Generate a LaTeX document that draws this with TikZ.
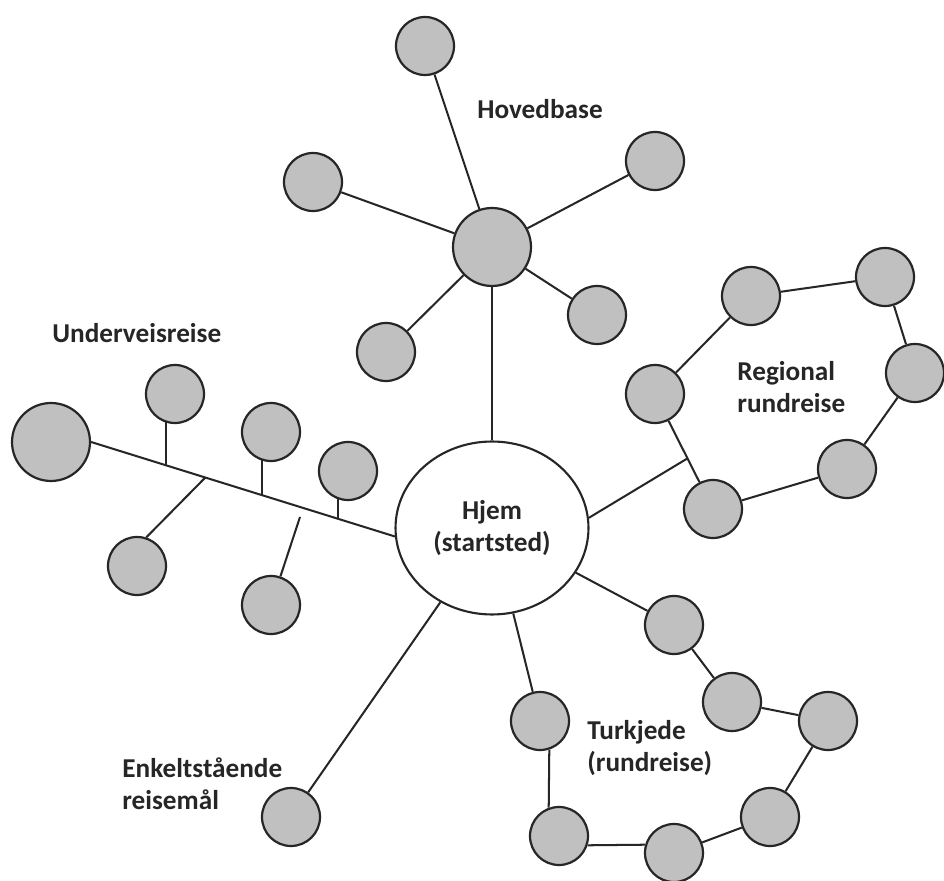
\documentclass[tikz,border=0pt]{standalone}
\usepackage{fontspec}
\setmainfont{Carlito}
\usepackage{tikz}
\usetikzlibrary{shapes.geometric,calc,backgrounds}
\definecolor{stopfill}{HTML}{C0C0C0}
\definecolor{ink}{HTML}{262626}
\newcommand{\vfont}{\fontsize{15.5}{18.7}\selectfont\bfseries}
\tikzset{
  vstop/.style={circle,draw=ink,fill=stopfill,line width=1.25pt,minimum size=1.16cm,inner sep=0pt},
  vhub/.style={vstop,minimum size=1.56cm},
  vhome/.style={ellipse,draw=ink,fill=white,line width=1.2pt,minimum width=3.86cm,minimum height=3.46cm,inner sep=0pt,align=center,font=\vfont,text=ink},
  vline/.style={line width=1.15pt,draw=ink},
  vlabel/.style={anchor=base west,align=left,font=\vfont,text=ink,inner sep=0pt}
}

\begin{document}
\begin{tikzpicture}[x=0.02cm,y=-0.02cm]
  % 1 unit = 1 px of the 944 x 881 sketch, y downwards
  \useasboundingbox (0,0) rectangle (944,881);
  \begin{scope}[on background layer]
    \fill[white] (0,0) rectangle (944,881);
  \end{scope}
  \node[vhome] (home) at (492,528) {Hjem\\(startsted)};
  % hovedbase
  \node[vhub] (hub) at (492,247) {};
  \node[vstop] (hT) at (425,46) {};
  \node[vstop] (hUL) at (313,182) {};
  \node[vstop] (hUR) at (655,161) {};
  \node[vstop] (hLL) at (386,352) {};
  \node[vstop] (hLR) at (597,315) {};
  % underveisreise
  \node[vhub] (uB) at (51,442) {};
  \node[vstop] (uS1) at (175,394) {};
  \node[vstop] (uS2) at (271,432) {};
  \node[vstop] (uS3) at (348,471) {};
  \node[vstop] (uS4) at (137,566) {};
  \node[vstop] (uS5) at (271,605) {};
  % regional rundreise
  \node[vstop] (rR1) at (655,394) {};
  \node[vstop] (rR2) at (751,296) {};
  \node[vstop] (rR3) at (885,277) {};
  \node[vstop] (rR4) at (915,373) {};
  \node[vstop] (rR5) at (847,469) {};
  \node[vstop] (rR6) at (713,509) {};
  % turkjede
  \node[vstop] (tK1) at (674,625) {};
  \node[vstop] (tK2) at (732,702) {};
  \node[vstop] (tK3) at (828,721) {};
  \node[vstop] (tK4) at (770,817) {};
  \node[vstop] (tK5) at (674,853) {};
  \node[vstop] (tK6) at (559,836) {};
  \node[vstop] (tK7) at (540,721) {};
  % enkeltstaende
  \node[vstop] (eE) at (291,817) {};

  \begin{scope}[on background layer]
    \foreach \s in {hT,hUL,hUR,hLL,hLR,home}
      \draw[vline] (hub) -- (\s);
    \draw[vline] (uB.east) -- (home.185);
    \coordinate (j1) at ($(uB.east)!0.245!(home.185)$);
    \coordinate (j2) at ($(uB.east)!0.562!(home.185)$);
    \coordinate (j3) at ($(uB.east)!0.814!(home.185)$);
    \coordinate (j4) at ($(uB.east)!0.376!(home.185)$);
    \coordinate (j5) at (300,517);
    \draw[vline] (j1) -- (j1 |- uS1);
    \draw[vline] (j2) -- (j2 |- uS2);
    \draw[vline] (j3) -- (j3 |- uS3);
    \draw[vline] (j4) -- (uS4.72);
    \draw[vline] (j5) -- (uS5);
    \draw[vline] (rR1) -- (rR2) -- (rR3) -- (rR4) -- (rR5) -- (rR6) -- (rR1);
    \coordinate (rj) at ($(rR1)!0.56!(rR6)$);
    \draw[vline] (home.6) -- (rj);
    \draw[vline] (home) -- (tK1) -- (tK2) -- (tK3) -- (tK4) -- (tK5);
    \draw[vline] (tK5.164) -- (tK6.-18);
    \draw[vline] (tK6.110) -- (tK7.-72);
    \draw[vline] (tK7) -- (home);
    \draw[vline] (home) -- (eE);
  \end{scope}

  \node[vlabel] (lblHoved) at (477,119) {Hovedbase};
  \node[vlabel] (lblUnder) at (52,343) {Underveisreise};
  \node[vlabel] (lblRegional) at (737,413) {Regional\\rundreise};
  \node[vlabel] (lblTur) at (587,772) {Turkjede\\(rundreise)};
  \node[vlabel] (lblEnkelt) at (122,810) {Enkeltstående\\reisemål};
\end{tikzpicture}
\end{document}
